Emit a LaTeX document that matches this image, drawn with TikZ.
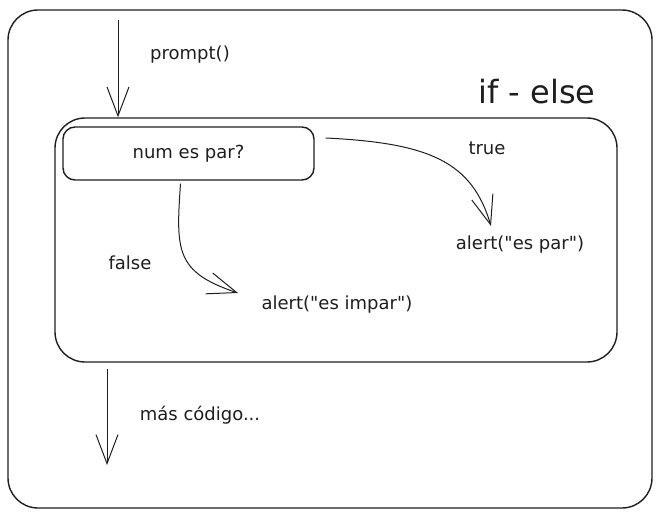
\documentclass[tikz,border=0pt]{standalone}
\usepackage{fontspec}
\setmainfont{DejaVu Sans}[Ligatures=TeXOff]
\usetikzlibrary{arrows.meta}
\definecolor{ink}{HTML}{1E1E1E}
\begin{document}
\begin{tikzpicture}[x=1pt,y=-1pt,
  lbl/.style={font=\fontsize{18}{21}\selectfont, text=ink, inner sep=0pt},
  title/.style={font=\fontsize{32}{38}\selectfont, text=ink, inner sep=0pt},
  frame/.style={draw=ink, line width=1.4pt, rounded corners=30pt},
  decbox/.style={draw=ink, line width=1.4pt, rounded corners=12pt, font=\fontsize{18}{21}\selectfont, text=ink},
  flow/.style={draw=ink, line width=1pt, -{Straight Barb[length=29pt,width=22pt,line width=1pt]}}
]
\useasboundingbox (0,0) rectangle (662,517);
% frames
\node[frame, minimum width=644pt, minimum height=498pt] (outer) at (330,259) {};
\node[frame, minimum width=562pt, minimum height=244pt] (inner) at (336,240) {};
\node[decbox, minimum width=251pt, minimum height=53pt] (dec) at (188.5,153.5) {num es par?};
% labels
\node[lbl] (prompt) at (190,55) {prompt()};
\node[title] (ifelse) at (537,92) {if - else};
\node[lbl] (true) at (487,148) {true};
\node[lbl] (par) at (520,245) {alert("es par")};
\node[lbl] (false) at (130,263) {false};
\node[lbl] (impar) at (337,305) {alert("es impar")};
\node[lbl] (mas) at (200,415) {más código...};
% connectors
\coordinate (pstart) at (118,20);
\coordinate (bend) at (107,465);
\draw[flow] (pstart) -- (pstart |- inner.north);
\draw[flow] ([xshift=11pt,yshift=15.5pt]dec.east) .. controls (430,143) and (472,162) .. (491,226);
\draw[flow] ([xshift=-8pt,yshift=-3pt]dec.south) .. controls (176,250) and (175,272) .. (238,293);
\draw[flow] ([yshift=-6pt]inner.south -| bend) -- (bend);
\end{tikzpicture}
\end{document}
